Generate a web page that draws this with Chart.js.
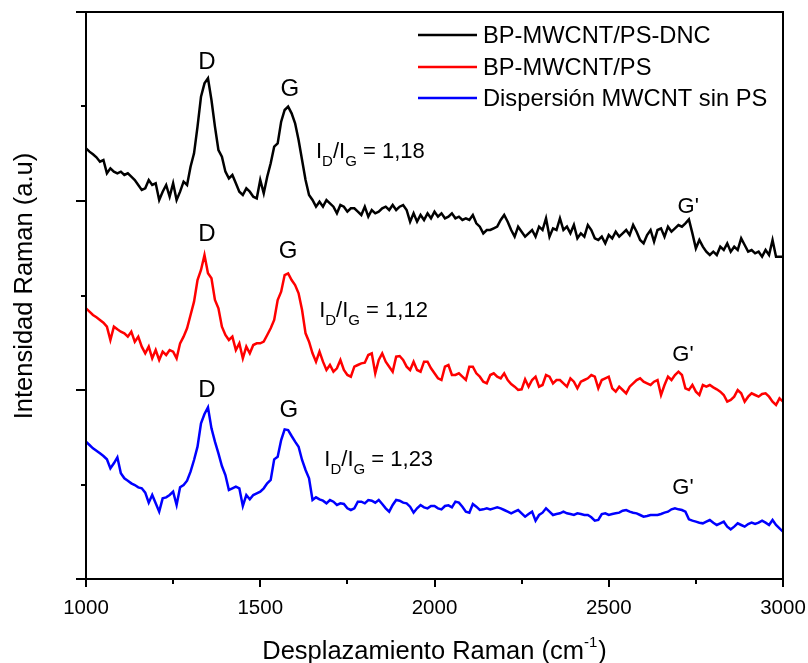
<!DOCTYPE html>
<html>
<head>
<meta charset="utf-8">
<script src="https://cdn.jsdelivr.net/npm/chart.js@4.4.1/dist/chart.umd.min.js"></script>
<style>
html,body{margin:0;padding:0;background:#ffffff;}
#wrap{width:808px;height:663px;}
canvas{display:block;}
</style>
</head>
<body>
<div id="wrap"><canvas id="c" width="808" height="663"></canvas></div>
<script>
// ---- categories: Raman shift (cm-1), from 1000 to 3000 every 10 ----
const xStart = 1000;
const xStep = 10;

const seriesLabels = ['BP-MWCNT/PS-DNC', 'BP-MWCNT/PS', 'Dispersión MWCNT sin PS'];
const seriesColors = ['#000000', '#ff0000', '#0000ff'];

// ---- intensities (a.u.) ----
const bpMwcntPsDnc = [
1292,1282,1274,1265,1252,1257,1217,1232,1222,1217,
1222,1212,1217,1207,1197,1182,1167,1172,1197,1182,
1187,1137,1162,1182,1147,1187,1137,1162,1192,1182,
1237,1277,1357,1447,1487,1502,1437,1357,1287,1267,
1222,1202,1212,1187,1162,1152,1172,1162,1147,1142,
1197,1157,1207,1247,1297,1307,1372,1407,1417,1397,
1367,1317,1257,1197,1152,1137,1117,1132,1117,1137,
1127,1117,1097,1122,1117,1102,1112,1112,1102,1092,
1117,1087,1107,1097,1102,1112,1117,1107,1122,1107,
1117,1122,1107,1072,1097,1072,1092,1077,1097,1082,
1102,1087,1097,1082,1087,1097,1082,1087,1077,1082,
1077,1092,1067,1057,1037,1047,1047,1052,1057,1077,
1092,1072,1047,1027,1057,1042,1027,1037,1047,1027,
1057,1047,1082,1027,1052,1047,1082,1047,1057,1037,
1062,1022,1037,1027,1062,1047,1022,1017,1027,1007,
1032,1022,1042,1027,1037,1047,1032,1062,1042,1017,
1007,1032,1047,1012,1047,1052,1027,1057,1042,1052,
1062,1057,1067,1079,1037,992,1017,997,982,972,
982,972,997,987,1007,982,997,987,1022,1002,
982,987,977,982,967,987,972,1017,967,967,
967];

const bpMwcntPs = [
812,802,792,785,777,769,757,717,757,749,
742,737,727,742,712,727,697,677,697,662,
687,657,682,672,687,682,662,707,727,752,
792,832,897,927,972,917,902,837,812,757,
732,717,727,687,707,662,697,677,702,707,
707,712,732,752,777,837,862,912,917,897,
882,857,807,737,712,677,652,682,652,627,
642,622,632,657,627,612,607,637,642,647,
649,672,677,617,657,677,652,637,622,667,
669,657,637,627,652,627,622,652,652,632,
617,602,597,637,642,612,612,617,607,597,
637,637,617,607,592,587,612,617,607,602,
617,597,585,577,567,569,599,577,597,607,
577,582,612,607,587,597,597,587,577,602,
592,572,592,597,602,612,607,572,597,602,
607,572,562,577,567,557,577,587,597,602,
592,587,582,592,597,552,582,607,597,612,
622,612,572,567,582,562,552,582,577,582,
575,569,562,552,532,537,547,567,557,532,
547,557,552,547,555,557,547,532,522,542,
532];

const dispersionMwcnt = [
412,402,392,385,377,369,359,332,347,365,
317,302,295,287,282,275,272,259,229,252,
227,202,242,245,252,262,222,275,282,295,
322,357,397,467,495,515,452,412,377,339,
312,267,272,277,272,219,252,239,252,257,
262,272,287,297,359,367,417,449,447,429,
412,397,357,327,302,237,245,239,235,227,
237,232,222,227,225,212,207,212,232,232,
227,237,235,229,237,225,212,202,222,237,
235,229,227,217,199,212,222,215,212,219,
219,212,209,219,221,215,232,229,217,202,
199,225,217,207,209,212,209,212,215,212,
207,202,197,202,207,197,187,195,202,175,
192,199,212,202,192,195,197,202,197,195,
192,197,195,192,192,185,175,177,195,197,
192,195,197,199,205,207,202,199,197,192,
187,189,192,192,192,195,199,202,209,212,
209,207,202,179,175,172,169,167,172,177,
169,162,167,172,157,149,157,167,162,157,
165,169,165,169,175,169,162,177,162,152,
142];

// ---- axes ----
const xMin = 1000, xMax = 3000;
const yMin = 0, yMax = 1701;
const xTickValues = [1000, 1500, 2000, 2500, 3000];
const xMinorTickValues = [1250, 1750, 2250, 2750];
const yMajorTickValues = [0, 567, 1134, 1701];
const yMinorTickValues = [283.5, 850.5, 1417.5];

// ---- peak annotations (data coordinates) ----
const peakLabels = [
  {text:'D',  x:1347, y:1551},
  {text:'G',  x:1585, y:1468},
  {text:"G'", x:2728, y:1116},
  {text:'D',  x:1347, y:1035},
  {text:'G',  x:1580, y:982},
  {text:"G'", x:2713, y:672},
  {text:'D',  x:1347, y:567},
  {text:'G',  x:1582, y:507},
  {text:"G'", x:2713, y:273}
];
const ratioLabels = [
  {value:'1,18', x:1660, y:1287},
  {value:'1,12', x:1669, y:810},
  {value:'1,23', x:1684, y:364}
];

const FONT = "'Liberation Sans', Arial, Helvetica, sans-serif";

function toPoints(arr){
  return arr.map((v,i)=>({x: xStart + i*xStep, y: v}));
}

const allSeries = [bpMwcntPsDnc, bpMwcntPs, dispersionMwcnt];

const decorPlugin = {
  id: 'decor',
  afterDraw(chart){
    const ctx = chart.ctx;
    const xs = chart.scales.x, ys = chart.scales.y;
    const a = chart.chartArea;
    ctx.save();
    ctx.strokeStyle = '#000';
    ctx.fillStyle = '#000';
    ctx.lineWidth = 2;
    ctx.lineCap = 'butt';
    // frame
    ctx.beginPath();
    ctx.rect(a.left, a.top, a.right - a.left, a.bottom - a.top);
    ctx.stroke();
    // x ticks
    ctx.beginPath();
    xTickValues.forEach(v=>{
      const px = Math.round(xs.getPixelForValue(v));
      ctx.moveTo(px, a.bottom); ctx.lineTo(px, a.bottom + 8);
    });
    xMinorTickValues.forEach(v=>{
      const px = Math.round(xs.getPixelForValue(v));
      ctx.moveTo(px, a.bottom); ctx.lineTo(px, a.bottom + 5);
    });
    // y ticks
    yMajorTickValues.forEach(v=>{
      const py = Math.round(ys.getPixelForValue(v));
      ctx.moveTo(a.left, py); ctx.lineTo(a.left - 10, py);
    });
    yMinorTickValues.forEach(v=>{
      const py = Math.round(ys.getPixelForValue(v));
      ctx.moveTo(a.left, py); ctx.lineTo(a.left - 5, py);
    });
    ctx.stroke();

    // x tick labels
    ctx.font = '20.5px ' + FONT;
    ctx.textAlign = 'center';
    ctx.textBaseline = 'alphabetic';
    xTickValues.forEach(v=>{
      ctx.fillText(String(v), xs.getPixelForValue(v), a.bottom + 35);
    });

    // x title with superscript
    const mainF = '25.5px ' + FONT, supF = '15px ' + FONT;
    const p1 = 'Desplazamiento Raman (cm', p2 = '-1', p3 = ')';
    ctx.font = mainF; const w1 = ctx.measureText(p1).width, w3 = ctx.measureText(p3).width;
    ctx.font = supF; const w2 = ctx.measureText(p2).width;
    const tw = w1 + w2 + w3 + 1;
    let tx = (a.left + a.right)/2 - tw/2;
    const tb = 659;
    ctx.textAlign = 'left';
    ctx.font = mainF; ctx.fillText(p1, tx, tb); tx += w1;
    ctx.font = supF; ctx.fillText(p2, tx, tb - 12); tx += w2 + 1;
    ctx.font = mainF; ctx.fillText(p3, tx, tb);

    // y title
    ctx.save();
    ctx.translate(32, 286);
    ctx.rotate(-Math.PI/2);
    ctx.textAlign = 'center';
    ctx.font = '25.5px ' + FONT;
    ctx.fillText('Intensidad Raman (a.u)', 0, 0);
    ctx.restore();

    // legend
    ctx.font = '23.7px ' + FONT;
    ctx.textAlign = 'left';
    ctx.textBaseline = 'middle';
    const rows = [35, 67, 98];
    chart.data.datasets.forEach((ds, i)=>{
      ctx.strokeStyle = ds.borderColor;
      ctx.lineWidth = 2.5;
      ctx.beginPath();
      ctx.moveTo(418, rows[i]); ctx.lineTo(477, rows[i]);
      ctx.stroke();
      ctx.fillStyle = '#000';
      ctx.fillText(ds.label, 483, rows[i] + 1);
    });

    // peak labels
    ctx.textAlign = 'center';
    peakLabels.forEach(p=>{
      ctx.font = (p.text === "G'" ? '22px ' : '24px ') + FONT;
      ctx.fillText(p.text, xs.getPixelForValue(p.x), ys.getPixelForValue(p.y));
    });

    // I_D/I_G labels
    ctx.textAlign = 'left';
    ctx.textBaseline = 'alphabetic';
    ratioLabels.forEach(r=>{
      let x = xs.getPixelForValue(r.x);
      const base = ys.getPixelForValue(r.y) + 8;
      const big = '22px ' + FONT, small = '15px ' + FONT;
      const parts = [
        ['I', big, 0], ['D', small, 8], ['/', big, 0], ['I', big, 0], ['G', small, 8], [' = ' + r.value, big, 0]
      ];
      parts.forEach(pt=>{
        ctx.font = pt[1];
        ctx.fillText(pt[0], x, base + pt[2]);
        x += ctx.measureText(pt[0]).width;
      });
    });
    ctx.restore();
  }
};

new Chart(document.getElementById('c'), {
  type: 'line',
  data: {
    datasets: allSeries.map((s, i)=>({
      label: seriesLabels[i],
      data: toPoints(s),
      borderColor: seriesColors[i],
      backgroundColor: seriesColors[i],
      borderWidth: 2.5,
      pointRadius: 0,
      tension: 0,
      fill: false
    }))
  },
  options: {
    responsive: false,
    animation: false,
    devicePixelRatio: 1,
    layout: { padding: { left: 86, right: 25, top: 12, bottom: 84 } },
    plugins: { legend: { display: false }, tooltip: { enabled: false } },
    scales: {
      x: { type: 'linear', min: xMin, max: xMax, display: false },
      y: { type: 'linear', min: yMin, max: yMax, display: false }
    }
  },
  plugins: [decorPlugin]
});
</script>
</body>
</html>
